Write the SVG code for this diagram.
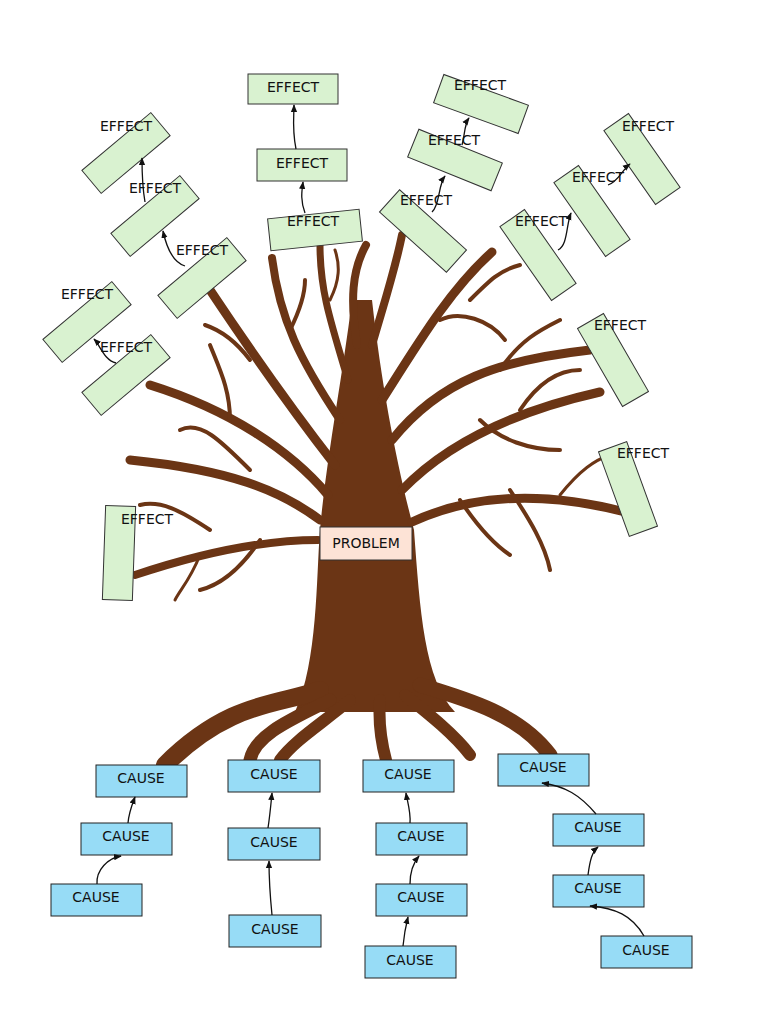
<svg xmlns="http://www.w3.org/2000/svg" width="768" height="1024" viewBox="0 0 768 1024">
<defs>
<marker id="ah" viewBox="0 0 10 10" refX="9" refY="5" markerWidth="6" markerHeight="6" orient="auto"><path d="M0,1 L10,5 L0,9 z" fill="#111"/></marker>
</defs>
<style>
.e{fill:#d9f2d0;stroke:#333;stroke-width:1}
.c{fill:#97dcf6;stroke:#222;stroke-width:1}
.t{font-family:"DejaVu Sans",sans-serif;font-size:14px;fill:#111;text-anchor:middle;dominant-baseline:central}
.b{fill:none;stroke:#6b3515;stroke-linecap:round;stroke-linejoin:round}
.k{fill:none;stroke:#111;stroke-width:1.3;marker-end:url(#ah)}
</style>
<rect width="768" height="1024" fill="#fff"/>
<g id="tree">
<path d="M295,712 C318,660 316,580 320,530 C326,460 342,380 352,300 L372,300 C382,390 398,470 414,530 C420,610 424,680 455,712 Z" fill="#6b3515"/>
<g class="b">
<path d="M320,690 C280,705 230,700 165,765" stroke-width="18"/>
<path d="M330,700 C290,720 255,735 250,760" stroke-width="13"/>
<path d="M350,700 C320,725 295,740 280,760" stroke-width="12"/>
<path d="M380,700 C378,725 382,745 386,760" stroke-width="12"/>
<path d="M405,695 C430,715 455,735 470,755" stroke-width="12"/>
<path d="M420,685 C470,700 520,715 550,755" stroke-width="15"/>
<path d="M320,520 C280,490 230,470 130,460" stroke-width="9"/>
<path d="M328,495 C290,450 230,410 150,385" stroke-width="9"/>
<path d="M335,465 C300,420 250,350 210,290" stroke-width="9"/>
<path d="M340,420 C300,360 280,320 272,258" stroke-width="8"/>
<path d="M348,380 C330,320 320,290 320,245" stroke-width="7"/>
<path d="M357,345 C350,300 352,270 366,245" stroke-width="8"/>
<path d="M372,345 C385,300 395,270 402,235" stroke-width="8"/>
<path d="M382,400 C420,340 450,290 492,252" stroke-width="9"/>
<path d="M392,440 C440,380 500,360 590,350" stroke-width="9"/>
<path d="M402,490 C450,440 520,410 600,392" stroke-width="9"/>
<path d="M412,522 C470,495 540,490 625,512" stroke-width="9"/>
<path d="M318,540 C270,540 210,550 135,575" stroke-width="8"/>
<path d="M250,470 C220,440 200,420 180,430" stroke-width="4"/>
<path d="M210,530 C180,510 160,500 140,505" stroke-width="4"/>
<path d="M200,555 C190,580 180,590 175,600" stroke-width="3"/>
<path d="M230,420 C230,390 220,370 210,345" stroke-width="4"/>
<path d="M250,360 C235,340 220,330 205,325" stroke-width="4"/>
<path d="M290,330 C300,310 305,295 305,280" stroke-width="4"/>
<path d="M330,300 C340,280 340,265 335,250" stroke-width="3"/>
<path d="M440,320 C460,310 490,320 505,340" stroke-width="4"/>
<path d="M470,300 C490,280 500,270 520,265" stroke-width="4"/>
<path d="M500,370 C520,340 540,330 560,320" stroke-width="4"/>
<path d="M480,420 C500,440 530,450 560,450" stroke-width="4"/>
<path d="M520,410 C540,380 560,370 580,370" stroke-width="4"/>
<path d="M510,490 C530,520 545,545 550,570" stroke-width="4"/>
<path d="M460,500 C480,530 495,545 510,555" stroke-width="4"/>
<path d="M560,495 C580,470 595,460 610,455" stroke-width="3"/>
<path d="M260,540 C240,570 220,585 200,590" stroke-width="4"/>
</g>
</g>
<g id="problem"><rect x="320" y="527" width="92" height="33" fill="#fde3d6" stroke="#333"/><text class="t" x="366" y="543">PROBLEM</text></g>
<g id="effects">
<g id="e1"><rect class="e" x="248" y="74" width="90" height="30"/><text class="t" x="293" y="87">EFFECT</text></g>
<g id="e2"><rect class="e" x="257" y="149" width="90" height="32"/><text class="t" x="302" y="163">EFFECT</text></g>
<g id="e3"><rect class="e" x="-46" y="-16" width="92" height="32" transform="translate(315,230) rotate(-6)"/><text class="t" x="313" y="221">EFFECT</text></g>
<g id="e4"><rect class="e" x="-45" y="-15" width="90" height="30" transform="translate(126,153) rotate(-40)"/><text class="t" x="126" y="126">EFFECT</text></g>
<g id="e5"><rect class="e" x="-45" y="-15" width="90" height="30" transform="translate(155,216) rotate(-40)"/><text class="t" x="155" y="188">EFFECT</text></g>
<g id="e6"><rect class="e" x="-45" y="-15" width="90" height="30" transform="translate(202,278) rotate(-40)"/><text class="t" x="202" y="250">EFFECT</text></g>
<g id="e7"><rect class="e" x="-45" y="-15" width="90" height="30" transform="translate(87,322) rotate(-40)"/><text class="t" x="87" y="294">EFFECT</text></g>
<g id="e8"><rect class="e" x="-45" y="-15" width="90" height="30" transform="translate(126,375) rotate(-40)"/><text class="t" x="126" y="347">EFFECT</text></g>
<g id="e9"><rect class="e" x="-15" y="-47" width="30" height="94" transform="translate(119,553) rotate(2)"/><text class="t" x="147" y="519">EFFECT</text></g>
<g id="e10"><rect class="e" x="-45" y="-15" width="90" height="30" transform="translate(423,231) rotate(42)"/><text class="t" x="426" y="200">EFFECT</text></g>
<g id="e11"><rect class="e" x="-45" y="-15" width="90" height="30" transform="translate(455,160) rotate(22)"/><text class="t" x="454" y="140">EFFECT</text></g>
<g id="e12"><rect class="e" x="-45" y="-15" width="90" height="30" transform="translate(481,104) rotate(20)"/><text class="t" x="480" y="85">EFFECT</text></g>
<g id="e13"><rect class="e" x="-45" y="-15" width="90" height="30" transform="translate(538,255) rotate(55)"/><text class="t" x="541" y="221">EFFECT</text></g>
<g id="e14"><rect class="e" x="-45" y="-15" width="90" height="30" transform="translate(592,211) rotate(55)"/><text class="t" x="598" y="177">EFFECT</text></g>
<g id="e15"><rect class="e" x="-45" y="-15" width="90" height="30" transform="translate(642,159) rotate(55)"/><text class="t" x="648" y="126">EFFECT</text></g>
<g id="e16"><rect class="e" x="-45" y="-15" width="90" height="30" transform="translate(613,360) rotate(60)"/><text class="t" x="620" y="325">EFFECT</text></g>
<g id="e17"><rect class="e" x="-45" y="-15" width="90" height="30" transform="translate(628,489) rotate(70)"/><text class="t" x="643" y="453">EFFECT</text></g>
</g>
<g id="causes">
<g id="c1"><rect class="c" x="96" y="765" width="91" height="32"/><text class="t" x="141" y="778">CAUSE</text></g>
<g id="c2"><rect class="c" x="81" y="823" width="91" height="32"/><text class="t" x="126" y="836">CAUSE</text></g>
<g id="c3"><rect class="c" x="51" y="884" width="91" height="32"/><text class="t" x="96" y="897">CAUSE</text></g>
<g id="c4"><rect class="c" x="228" y="760" width="92" height="32"/><text class="t" x="274" y="774">CAUSE</text></g>
<g id="c5"><rect class="c" x="228" y="828" width="92" height="32"/><text class="t" x="274" y="842">CAUSE</text></g>
<g id="c6"><rect class="c" x="229" y="915" width="92" height="32"/><text class="t" x="275" y="929">CAUSE</text></g>
<g id="c7"><rect class="c" x="363" y="760" width="91" height="32"/><text class="t" x="408" y="774">CAUSE</text></g>
<g id="c8"><rect class="c" x="376" y="823" width="91" height="32"/><text class="t" x="421" y="836">CAUSE</text></g>
<g id="c9"><rect class="c" x="376" y="884" width="91" height="32"/><text class="t" x="421" y="897">CAUSE</text></g>
<g id="c10"><rect class="c" x="365" y="946" width="91" height="32"/><text class="t" x="410" y="960">CAUSE</text></g>
<g id="c11"><rect class="c" x="498" y="754" width="91" height="32"/><text class="t" x="543" y="767">CAUSE</text></g>
<g id="c12"><rect class="c" x="553" y="814" width="91" height="32"/><text class="t" x="598" y="827">CAUSE</text></g>
<g id="c13"><rect class="c" x="553" y="875" width="91" height="32"/><text class="t" x="598" y="888">CAUSE</text></g>
<g id="c14"><rect class="c" x="601" y="936" width="91" height="32"/><text class="t" x="646" y="950">CAUSE</text></g>
</g>
<g id="connectors">
<path class="k" d="M305,213 C300,200 302,190 303,182"/>
<path class="k" d="M296,149 C292,130 294,115 294,105"/>
<path class="k" d="M145,202 C142,185 142,170 142,158"/>
<path class="k" d="M185,266 C172,262 166,245 163,231"/>
<path class="k" d="M116,363 C104,360 100,345 94,339"/>
<path class="k" d="M432,212 C440,205 438,185 445,176"/>
<path class="k" d="M462,145 C465,135 464,125 469,118"/>
<path class="k" d="M558,250 C568,245 566,225 571,213"/>
<path class="k" d="M608,185 C618,182 622,170 630,164"/>
<path class="k" d="M128,823 C129,812 132,805 135,797"/>
<path class="k" d="M97,884 C96,870 108,858 121,856"/>
<path class="k" d="M268,828 C270,815 271,803 272,793"/>
<path class="k" d="M272,915 C270,895 269,875 269,861"/>
<path class="k" d="M410,823 C411,812 407,800 406,793"/>
<path class="k" d="M410,884 C410,870 414,862 419,856"/>
<path class="k" d="M403,946 C404,935 406,925 408,917"/>
<path class="k" d="M596,814 C580,795 565,786 542,783"/>
<path class="k" d="M588,875 C590,860 592,852 598,847"/>
<path class="k" d="M644,936 C632,915 615,908 590,906"/>
</g>
</svg>
